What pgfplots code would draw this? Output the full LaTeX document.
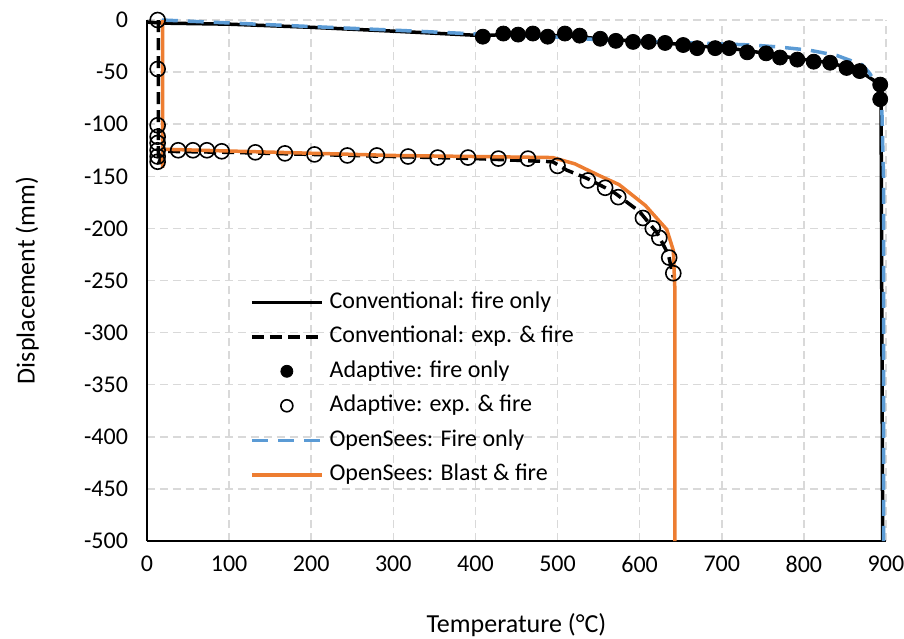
\documentclass[border=0pt]{standalone}
\usepackage{fontspec}
\setmainfont{Carlito}
\usepackage{pgfplots}
\pgfplotsset{compat=1.18}

\definecolor{osblue}{HTML}{5B9BD5}
\definecolor{osorange}{HTML}{ED7D31}
\definecolor{gridgray}{HTML}{D9D9D9}

\pgfplotsset{
    lineleg/.style={legend image code/.code={\draw[##1] (0pt,0pt) -- (35pt,0pt);}},
    markleg/.style={legend image code/.code={\draw[mark repeat=2,mark phase=2,mark size=3pt,##1] plot coordinates {(0pt,0pt)(17.5pt,0pt)(35pt,0pt)};}},
}

\begin{document}
\begin{tikzpicture}
\begin{axis}[
    scale only axis,
    width=369.5pt, height=260.5pt,
    xmin=0, xmax=900, ymin=-500, ymax=0,
    xtick={0,100,...,900},
    ytick={-500,-450,...,0},
    axis x line*=bottom, axis y line*=left,
    axis line style={black, line width=0.75pt},
    major tick length=0pt,
    grid=major,
    major grid style={gridgray, line width=0.75pt, dash pattern=on 4pt off 2.5pt},
    /pgf/number format/assume math mode=true,
    /pgf/number format/1000 sep={},
    ticklabel style={font=\fontsize{12}{14}\selectfont},
    yticklabel style={xshift=-6pt},
    xticklabel style={yshift=-4pt},
    xlabel={Temperature (°C)},
    ylabel={Displacement (mm)},
    every axis x label/.style={at={(axis description cs:0.5,-0.161)}, anchor=center,
        font=\fontsize{13}{15}\selectfont},
    every axis y label/.style={at={(axis description cs:-0.162,0.5)}, rotate=90, anchor=center,
        font=\fontsize{13}{15}\selectfont},
    clip=false,
    legend cell align=left,
    legend style={at={(rel axis cs:0.139,0.482)}, anchor=north west,
        draw=none, fill=none, inner xsep=0pt, inner ysep=0pt,
        font=\fontsize{12}{14}\selectfont, row sep=5.25pt, column sep=3pt,
        nodes={inner sep=0pt, text height=9pt, text depth=3pt}},
]
% Conventional: fire only
\addplot[black, line width=1.75pt, lineleg] coordinates {
    (0,-2)(20,-3)(100,-4)(200,-7)(308,-11)(409,-15)(434,-14)(470,-15)(509,-15)
    (552,-18)(592,-20)(631,-22)(670,-25)(709,-27)(754,-32)(792,-37)(832,-41)
    (868,-49)(893,-62)(894,-76)(896,-500)
};
\addlegendentry{Conventional: fire only}
% Conventional: exp. & fire
\addplot[black, line width=1.75pt, dash pattern=on 6pt off 3pt, lineleg] coordinates {
    (14,0)(14,-138)(20,-126)(100,-127)(200,-129)(300,-131)(400,-133)(494,-136)
    (511,-144)(536,-152)(568,-165)(600,-184)(621,-204)(635,-225)(641,-247)
};
\addlegendentry{Conventional: exp. \& fire}
% Adaptive: fire only
\addplot[only marks, mark=*, mark size=3.75pt, black, markleg] coordinates {
    (409,-16)(434,-13)(452,-14)(470,-13)(488,-16)(509,-13)(527,-15)(552,-18)
    (571,-20)(592,-21)(611,-21)(631,-22)(653,-24)(670,-27)(692,-27)(709,-27)
    (731,-31)(754,-32)(771,-36)(792,-38)(812,-40)(832,-41)(852,-46)(868,-49)
    (893,-62)(893,-76)
};
\addlegendentry{Adaptive: fire only}
% Adaptive: exp. & fire
\addplot[only marks, mark=o, mark size=3.75pt, black, mark options={line width=0.8pt}, markleg] coordinates {
    (13,0)(13,-47)(13,-101)(13,-112)(13,-118)(13,-125)(13,-131)(13,-136)
    (38,-125)(56,-125)(73,-125)(91,-126)(132,-127)(168,-128)(204,-129)(244,-130)
    (280,-130)(318,-131)(354,-132)(391,-132)(428,-133)(464,-133)(500,-140)
    (537,-154)(558,-161)(574,-170)(604,-190)(616,-200)(624,-209)(636,-228)(641,-243)
};
\addlegendentry{Adaptive: exp. \& fire}
% OpenSees: Fire only
\addplot[osblue, line width=1.75pt, dash pattern=on 8pt off 5pt, lineleg] coordinates {
    (18,0)(308,-10)(390,-13)(491,-16)(552,-19)(633,-21)(702,-23)(737,-24)
    (771,-26)(807,-29)(840,-34)(871,-43)(880,-51)(890,-64)(895,-86)(897,-150)(897,-500)
};
\addlegendentry{OpenSees: Fire only}
% OpenSees: Blast & fire
\addplot[osorange, line width=1.75pt, lineleg] coordinates {
    (19,0)(19,-142)(19,-124)(300,-130)(494,-132)(521,-138)(550,-149)(575,-158)
    (607,-178)(633,-201)(641,-221)(643,-260)(643,-500)
};
\addlegendentry{OpenSees: Blast \& fire}
\coordinate (bbl) at (rel axis cs:-0.1989,-0.1862);
\coordinate (btr) at (rel axis cs:1.0244,1.0384);
\end{axis}
\pgfresetboundingbox
\path[use as bounding box] (bbl) rectangle (btr);
\end{tikzpicture}
\end{document}
